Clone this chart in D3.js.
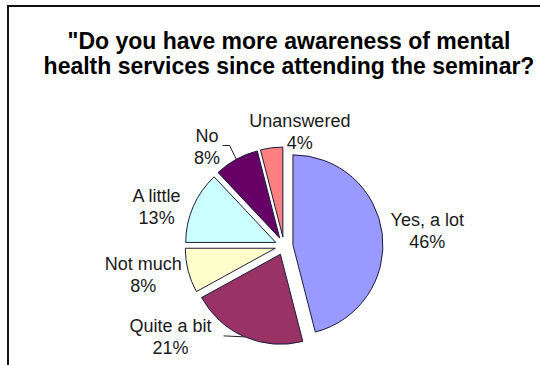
<!DOCTYPE html>
<html lang="en">
<head>
  <meta charset="utf-8">
  <style>
    body {
      margin: 0;
      padding: 0;
      background: #fff;
      font-family: "Liberation Sans", Arial, Helvetica, sans-serif;
    }
    svg { display: block; }
    .title { font-weight: bold; font-size: 23px; fill: #000; }
    .lbl { font-size: 18px; fill: #1a1a1a; }
  </style>
</head>
<body>
<svg width="540" height="365"></svg>
<script src="https://cdn.jsdelivr.net/npm/d3@7/dist/d3.min.js"></script>
<script>
  // answers, clockwise from 12 o'clock
  var categories = ["Yes, a lot", "Quite a bit", "Not much", "A little", "No", "Unanswered"];
  var percents = [46, 21, 8, 13, 8, 4];
  var colors = ["#9999ff", "#993366", "#ffffcc", "#ccffff", "#660066", "#ff8080"];
  var titleLines = ["\"Do you have more awareness of mental", "health services since attending the seminar?"];

  var svg = d3.select("svg"),
    cx = 284, cy = 246,
    radius = 90,
    explode = 9;

  // chart frame (runs off the right and bottom like the original)
  svg.append("rect")
    .attr("x", 8)
    .attr("y", 6)
    .attr("width", 600)
    .attr("height", 420)
    .attr("fill", "none")
    .attr("stroke", "#111")
    .attr("stroke-width", 2);

  svg.append("g")
    .selectAll("text")
    .data(titleLines)
    .enter().append("text")
    .attr("class", "title")
    .attr("x", 289)
    .attr("y", function(d, i) { return 49 + i * 25; })
    .attr("text-anchor", "middle")
    .text(function(d) { return d; });

  var data = categories.map(function(c, i) {
    return { name: c, value: percents[i], color: colors[i] };
  });

  var pie = d3.pie()
    .sort(null)
    .value(function(d) { return d.value; });

  var arc = d3.arc()
    .innerRadius(0)
    .outerRadius(radius);

  var arcs = pie(data);

  function mid(d) { return (d.startAngle + d.endAngle) / 2; }

  var g = svg.append("g")
    .attr("transform", "translate(" + cx + "," + cy + ")");

  g.selectAll("path")
    .data(arcs)
    .enter().append("path")
    .attr("transform", function(d) {
      var p = d3.pointRadial(mid(d), explode);
      return "translate(" + p[0] + "," + p[1] + ")";
    })
    .attr("d", arc)
    .attr("fill", function(d) { return d.data.color; })
    .attr("stroke", "#1c1c3c")
    .attr("stroke-width", 1);

  // where excel parked each label (polar, degrees / px from pie centre)
  var labelPlace = {
    "Yes, a lot": [84.4, 144],
    "Quite a bit": [231, 146],
    "Not much": [258, 144],
    "A little": [286.7, 133],
    "No": [322, 125],
    "Unanswered": [8, 114]
  };
  var withLeader = ["No", "Quite a bit"];

  var labels = g.selectAll(".lbl")
    .data(arcs)
    .enter().append("text")
    .attr("class", "lbl")
    .attr("text-anchor", "middle")
    .each(function(d) {
      var pl = labelPlace[d.data.name],
        p = d3.pointRadial(pl[0] * Math.PI / 180, pl[1]),
        t = d3.select(this);
      d.lx = p[0];
      d.ly = p[1];
      t.append("tspan").attr("x", p[0]).attr("y", p[1] - 6).text(d.data.name);
      t.append("tspan").attr("x", p[0]).attr("y", p[1] + 16).text(d.data.value + "%");
    });

  labels.filter(function(d) { return withLeader.indexOf(d.data.name) >= 0; })
    .each(function(d) {
      var w = this.firstChild.getComputedTextLength(),
        x0 = d.lx + w / 2 + (d.data.name == "No" ? 4 : 12),
        y0 = d.ly - 2,
        end = d3.pointRadial(mid(d), radius + explode);
      var pts = [[x0, y0]];
      if (d.data.name == "No") pts.push([x0 + 7, y0]);
      pts.push(end);
      g.append("path")
        .attr("d", d3.line()(pts))
        .attr("fill", "none")
        .attr("stroke", "#222")
        .attr("stroke-width", 1);
    });
</script>
</body>
</html>
